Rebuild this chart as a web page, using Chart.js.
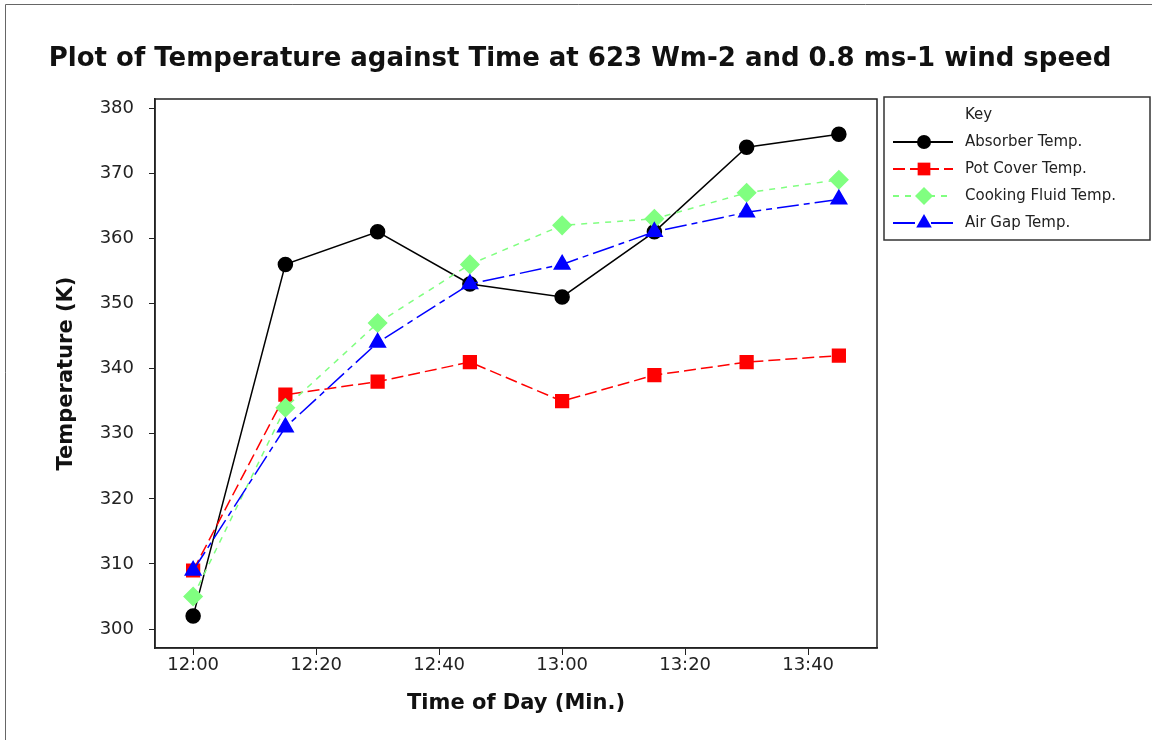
<!DOCTYPE html>
<html>
<head>
<meta charset="utf-8">
<script src="https://cdn.jsdelivr.net/npm/chart.js@4/dist/chart.umd.min.js"></script>
<style>
  html, body { margin: 0; padding: 0; background: #fff; }
</style>
</head>
<body>
<canvas id="tempChart" width="1152" height="740"></canvas>
<script>
// Time of each reading and temperatures (K)
const times = ['12:00', '12:15', '12:30', '12:45', '13:00', '13:15', '13:30', '13:45'];
const absorber = [302, 356, 361, 353, 351, 361, 374, 376];
const potCover = [309, 336, 338, 341, 335, 339, 341, 342];
const cookingFluid = [305, 334, 347, 356, 362, 363, 367, 369];
const airGap = [309, 331, 344, 353, 356, 361, 364, 366];

// Tick labels
const xTickLabels = ['12:00', '12:20', '12:40', '13:00', '13:20', '13:40'];
const yTickValues = [300, 310, 320, 330, 340, 350, 360, 370, 380];

const chartTitle = 'Plot of Temperature against Time at 623 Wm-2 and 0.8 ms-1 wind speed';

// minutes after 12:00
const toMin = t => {
  const [h, m] = t.split(':').map(Number);
  return (h - 12) * 60 + m;
};
const points = vals => vals.map((v, i) => ({ x: toMin(times[i]), y: v }));

const font = 'DejaVu Sans';

// outer frame, title and plot box
const frame = {
  id: 'frame',
  beforeDraw(chart) {
    const { ctx } = chart;
    ctx.save();
    ctx.fillStyle = '#fff';
    ctx.fillRect(0, 0, chart.width, chart.height);
    ctx.strokeStyle = '#666';
    ctx.lineWidth = 1;
    ctx.beginPath();
    ctx.moveTo(5.5, chart.height);
    ctx.lineTo(5.5, 4.5);
    ctx.lineTo(chart.width, 4.5);
    ctx.stroke();
    ctx.fillStyle = '#111';
    ctx.font = `bold 26px "${font}"`;
    ctx.textAlign = 'center';
    ctx.textBaseline = 'middle';
    ctx.fillText(chartTitle, 580, 59);
    ctx.restore();
  },
  afterDraw(chart) {
    const { ctx, chartArea: a } = chart;
    ctx.save();
    ctx.strokeStyle = '#222';
    ctx.lineWidth = 1.5;
    ctx.strokeRect(a.left, a.top, a.right - a.left, a.bottom - a.top);
    ctx.restore();
  }
};

// "Key" box at the right of the plot
const keyBox = {
  id: 'keyBox',
  afterDraw(chart) {
    const { ctx, chartArea: a } = chart;
    const x0 = a.right + 7, y0 = a.top - 2;
    const w = chart.width - x0 - 2, h = 143;
    ctx.save();
    ctx.strokeStyle = '#333';
    ctx.lineWidth = 1.5;
    ctx.strokeRect(x0, y0, w, h);
    ctx.fillStyle = '#222';
    ctx.font = `15px "${font}"`;
    ctx.textBaseline = 'middle';
    ctx.fillText('Key', x0 + 81, y0 + 18);
    chart.data.datasets.forEach((ds, i) => {
      const y = y0 + 45 + i * 27;
      ctx.strokeStyle = ds.borderColor;
      ctx.lineWidth = 2;
      ctx.setLineDash(ds.borderDash || []);
      ctx.beginPath();
      ctx.moveTo(x0 + 9, y);
      ctx.lineTo(x0 + 69, y);
      ctx.stroke();
      ctx.setLineDash([]);
      ctx.fillStyle = ds.pointBackgroundColor;
      ctx.strokeStyle = ds.pointBackgroundColor;
      Chart.helpers.drawPoint(ctx, {
        pointStyle: ds.pointStyle,
        radius: ds.pointRadius,
        rotation: 0,
        borderWidth: 0
      }, x0 + 40, y);
      ctx.fillStyle = '#222';
      ctx.fillText(ds.label, x0 + 81, y);
    });
    ctx.restore();
  }
};

new Chart(document.getElementById('tempChart'), {
  type: 'line',
  data: {
    datasets: [
      {
        label: 'Absorber Temp.',
        data: points(absorber),
        borderColor: '#000000',
        pointBackgroundColor: '#000000',
        borderWidth: 1.5,
        pointStyle: 'circle',
        pointRadius: 7,
        order: 4
      },
      {
        label: 'Pot Cover Temp.',
        data: points(potCover),
        borderColor: '#ff0000',
        pointBackgroundColor: '#ff0000',
        borderWidth: 1.5,
        borderDash: [12, 5],
        pointStyle: 'rect',
        pointRadius: 9,
        order: 3
      },
      {
        label: 'Cooking Fluid Temp.',
        data: points(cookingFluid),
        borderColor: '#80ff80',
        pointBackgroundColor: '#80ff80',
        borderWidth: 1.5,
        borderDash: [6, 6],
        pointStyle: 'rectRot',
        pointRadius: 9,
        order: 2
      },
      {
        label: 'Air Gap Temp.',
        data: points(airGap),
        borderColor: '#0000ff',
        pointBackgroundColor: '#0000ff',
        borderWidth: 1.5,
        borderDash: [22, 5, 6, 5],
        pointStyle: 'triangle',
        pointRadius: 9,
        order: 1
      }
    ]
  },
  options: {
    responsive: false,
    animation: false,
    layout: { padding: { top: 99, right: 275, left: 0, bottom: 0 } },
    elements: {
      line: { tension: 0, fill: false },
      point: { borderWidth: 0, hoverRadius: 7 }
    },
    plugins: {
      legend: { display: false },
      tooltip: { enabled: false },
      title: { display: false }
    },
    scales: {
      x: {
        type: 'linear',
        min: -6.2,
        max: 111.2,
        afterFit: s => { s.height = 92; },
        afterBuildTicks: s => {
          s.ticks = xTickLabels.map(t => ({ value: toMin(t) }));
        },
        ticks: {
          color: '#222',
          font: { family: font, size: 18 },
          padding: 0,
          maxRotation: 0,
          callback: v => xTickLabels.find(t => toMin(t) === v)
        },
        grid: { drawOnChartArea: false, color: '#222', tickLength: 7 },
        border: { display: true, color: '#222', width: 1.5 },
        title: {
          display: true,
          text: 'Time of Day (Min.)',
          color: '#111',
          font: { family: font, size: 21, weight: 'bold' },
          padding: { top: 0, bottom: 24 }
        }
      },
      y: {
        min: 297.1,
        max: 381.4,
        afterFit: s => { s.width = 155; },
        afterBuildTicks: s => {
          s.ticks = yTickValues.map(v => ({ value: v }));
        },
        ticks: {
          color: '#222',
          font: { family: font, size: 18 },
          padding: 15
        },
        grid: { drawOnChartArea: false, color: '#222', tickLength: 6 },
        border: { display: true, color: '#222', width: 1.5 },
        title: {
          display: true,
          text: 'Temperature (K)',
          color: '#111',
          font: { family: font, size: 21, weight: 'bold' },
          padding: { top: 54, bottom: 0 }
        }
      }
    }
  },
  plugins: [frame, keyBox]
});
</script>
</body>
</html>
